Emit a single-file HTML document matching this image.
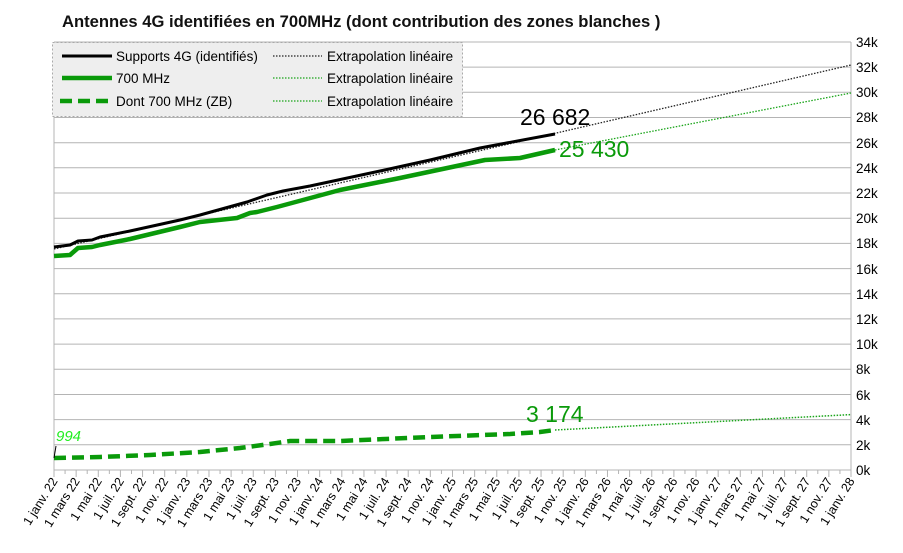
<!DOCTYPE html>
<html><head><meta charset="utf-8"><style>
body{margin:0;background:#fff;}
svg{display:block;font-family:"Liberation Sans",sans-serif;}
</style></head><body>
<svg width="903" height="553" viewBox="0 0 903 553" xmlns="http://www.w3.org/2000/svg">
<text x="62" y="27" font-size="16.6" font-weight="bold" fill="#111">Antennes 4G identifiées en 700MHz (dont contribution des zones blanches )</text>
<g stroke="#b4b4b4" stroke-width="1">
<line x1="54" y1="470" x2="851" y2="470"/>
<line x1="54" y1="444.8" x2="851" y2="444.8"/>
<line x1="54" y1="419.6" x2="851" y2="419.6"/>
<line x1="54" y1="394.5" x2="851" y2="394.5"/>
<line x1="54" y1="369.3" x2="851" y2="369.3"/>
<line x1="54" y1="344.1" x2="851" y2="344.1"/>
<line x1="54" y1="318.9" x2="851" y2="318.9"/>
<line x1="54" y1="293.7" x2="851" y2="293.7"/>
<line x1="54" y1="268.6" x2="851" y2="268.6"/>
<line x1="54" y1="243.4" x2="851" y2="243.4"/>
<line x1="54" y1="218.2" x2="851" y2="218.2"/>
<line x1="54" y1="193" x2="851" y2="193"/>
<line x1="54" y1="167.8" x2="851" y2="167.8"/>
<line x1="54" y1="142.7" x2="851" y2="142.7"/>
<line x1="54" y1="117.5" x2="851" y2="117.5"/>
<line x1="54" y1="92.3" x2="851" y2="92.3"/>
<line x1="54" y1="67.1" x2="851" y2="67.1"/>
<line x1="54" y1="42" x2="851" y2="42"/>
<line x1="54" y1="42" x2="54" y2="470"/>
<line x1="851" y1="42" x2="851" y2="470"/>
</g>
<g id="ticks" stroke="#b4b4b4"></g>
<g font-size="13.5" fill="#000" text-anchor="start">
<text x="856" y="475">0k</text><text x="856" y="450">2k</text><text x="856" y="425">4k</text><text x="856" y="400">6k</text><text x="856" y="374">8k</text><text x="856" y="349">10k</text><text x="856" y="324">12k</text><text x="856" y="299">14k</text><text x="856" y="274">16k</text><text x="856" y="248">18k</text><text x="856" y="223">20k</text><text x="856" y="198">22k</text><text x="856" y="173">24k</text><text x="856" y="148">26k</text><text x="856" y="122">28k</text><text x="856" y="97">30k</text><text x="856" y="72">32k</text><text x="856" y="47">34k</text>
</g>
<g id="xl" font-size="12.5" fill="#000" text-anchor="end"></g>
<line x1="54" y1="249" x2="851" y2="65" stroke="#222" stroke-width="1.3" stroke-dasharray="1.5,1.5"/>
<line x1="555" y1="150" x2="851" y2="93" stroke="#1aa51a" stroke-width="1.3" stroke-dasharray="1.5,1.5"/>
<line x1="555" y1="430" x2="851" y2="414.6" stroke="#1aa51a" stroke-width="1.5" stroke-dasharray="1.5,1.5"/>
<polyline fill="none" stroke="#000" stroke-width="3" stroke-linejoin="round" points="54,247 70,245 78,241 92,240 100,237 130,231 180,220 200,215 247,202 267,195 283,191 310,186 380,171 430,160 480,148 555,134"/>
<polyline fill="none" stroke="#0a9a0a" stroke-width="4.5" stroke-linejoin="round" points="54,256 70,255 78,248 92,247 100,245 130,239 180,227 200,222 237,218 250,213 257,212 277,207 340,190 400,178 485,160 520,158 555,150"/>
<polyline fill="none" stroke="#0a9a0a" stroke-width="4.5" stroke-dasharray="12,6" points="54,458 100,457 150,455 200,452 240,448 270,444 290,441 340,441 430,437 510,434 540,432 555,430"/>
<line x1="54" y1="458" x2="56" y2="446" stroke="#000" stroke-width="1"/>
<text x="56" y="441" font-size="15" font-style="italic" fill="#22ee22">994</text>
<text x="520" y="125" font-size="23" fill="#000">26 682</text>
<text x="559" y="157" font-size="23" fill="#0a9a0a">25 430</text>
<text x="526" y="422" font-size="23" fill="#0a9a0a">3 174</text>
<rect x="52.5" y="42.5" width="410" height="74" fill="#eeeeee" stroke="#aaa" stroke-dasharray="2,2"/>
<g font-size="13.5" fill="#000">
<line x1="62" y1="56" x2="112" y2="56" stroke="#000" stroke-width="3"/>
<text x="116" y="61">Supports 4G (identifiés)</text>
<line x1="62" y1="78" x2="112" y2="78" stroke="#0a9a0a" stroke-width="4.5"/>
<text x="116" y="83">700 MHz</text>
<line x1="60" y1="101" x2="112" y2="101" stroke="#0a9a0a" stroke-width="4.5" stroke-dasharray="12,6"/>
<text x="116" y="106">Dont 700 MHz (ZB)</text>
<line x1="273" y1="56" x2="322" y2="56" stroke="#222" stroke-width="1.3" stroke-dasharray="1.5,1.5"/>
<line x1="273" y1="78" x2="322" y2="78" stroke="#1aa51a" stroke-width="1.3" stroke-dasharray="1.5,1.5"/>
<line x1="273" y1="101" x2="322" y2="101" stroke="#1aa51a" stroke-width="1.3" stroke-dasharray="1.5,1.5"/>
<text x="327" y="61">Extrapolation linéaire</text>
<text x="327" y="83">Extrapolation linéaire</text>
<text x="327" y="106">Extrapolation linéaire</text>
</g>
</svg>
<script>
var ns="http://www.w3.org/2000/svg",t=document.getElementById("ticks"),xl=document.getElementById("xl");
var m=["janv.","mars","mai","juil.","sept.","nov."];
for(var i=0;i<=72;i++){var x=54+i*797/72;var l=document.createElementNS(ns,"line");l.setAttribute("x1",x);l.setAttribute("x2",x);l.setAttribute("y1",470);l.setAttribute("y2",i%2?474:477);t.appendChild(l);}
for(var k=0;k<=36;k++){var x=54+k*797/36;var tx=document.createElementNS(ns,"text");tx.setAttribute("transform","translate("+(x+4)+",481) rotate(-58)");tx.textContent="1 "+m[k%6]+" "+(22+Math.floor(k/6));xl.appendChild(tx);}
</script>
</body></html>
